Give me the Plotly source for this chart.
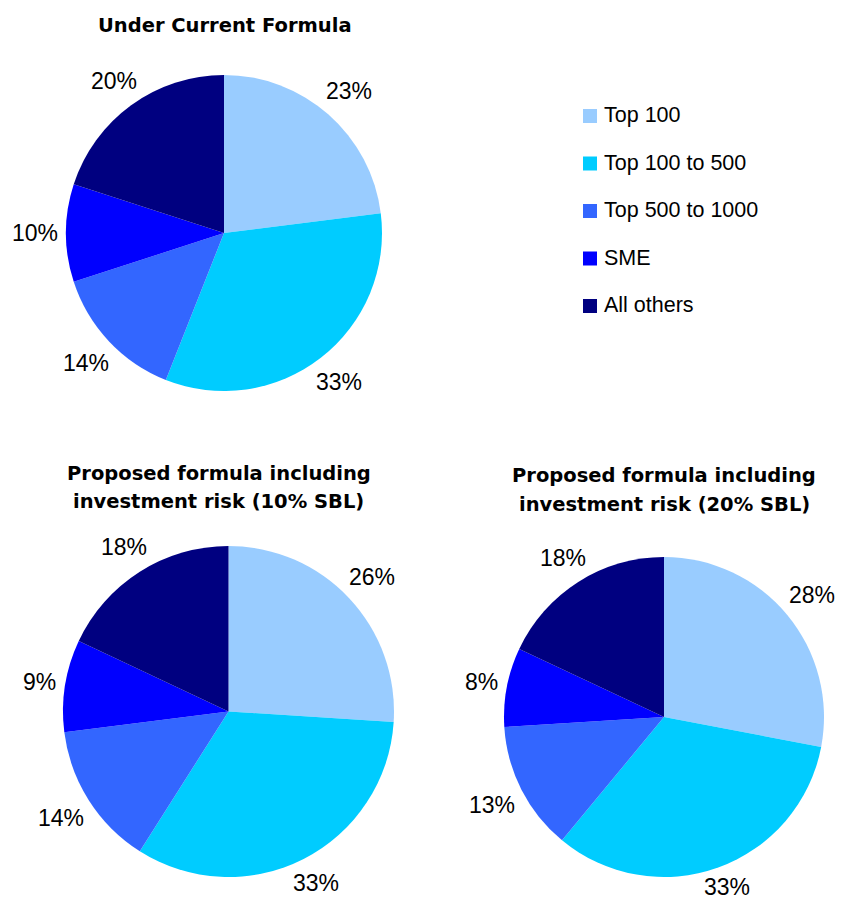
import math
import plotly.graph_objects as go

# Segment names and colours
segments = ["Top 100", "Top 100 to 500", "Top 500 to 1000", "SME", "All others"]
colors = ["#99CCFF", "#00CCFF", "#3366FF", "#0000FF", "#000080"]

# Share of the total (%) under each formula
current = [23, 33, 14, 10, 20]
proposed_10 = [26, 33, 14, 9, 18]
proposed_20 = [28, 33, 13, 8, 18]

W, H = 845, 900
LABEL_FONT = "Liberation Sans, Arial"
LABEL_SIZE = 23
TITLE_FONT = "DejaVu Sans, Arial"

# Pie boxes in pixels (left, right, top, bottom) and their titles
pies = [
    (current, (66, 382, 75, 391), ["Under Current Formula"], 225, [25]),
    (proposed_10, (63, 394, 546, 877),
     ["Proposed formula including", "investment risk (10% SBL)"], 219, [474, 501]),
    (proposed_20, (504, 824, 557, 877),
     ["Proposed formula including", "investment risk (20% SBL)"], 664, [476, 504]),
]


def px_domain(x0, x1, y0, y1):
    """Convert a pixel box (top-left origin) into a paper domain."""
    return dict(x=[x0 / W, x1 / W], y=[1 - y1 / H, 1 - y0 / H])


fig = go.Figure()
for vals, (x0, x1, y0, y1), title_lines, tx, ty in pies:
    fig.add_trace(go.Pie(
        labels=segments,
        values=vals,
        sort=False,
        direction="clockwise",
        rotation=0,
        domain=px_domain(x0, x1, y0, y1),
        marker=dict(colors=colors, line=dict(width=0)),
        textinfo="none",
        showlegend=False,
        hoverinfo="label+value",
    ))

    # Percentage labels just outside each slice, along its mid-angle;
    # the gap accounts for the label's own half-width / half-height.
    cx, cy = (x0 + x1) / 2, (y0 + y1) / 2
    r = min(x1 - x0, y1 - y0) / 2
    total = sum(vals)
    cum = 0
    for v in vals:
        mid = (cum + v / 2) / total * 2 * math.pi
        cum += v
        text = f"{v}%"
        hw = LABEL_SIZE * (0.556 * len(str(v)) + 0.889) / 2
        hh = 10
        s, c = math.sin(mid), math.cos(mid)
        d = r + 8 + abs(s) * hw + abs(c) * hh
        lx = cx + d * s
        ly = min(cy - d * c, H - 13)
        fig.add_annotation(
            x=lx / W, y=1 - ly / H, xref="paper", yref="paper",
            text=text, showarrow=False,
            xanchor="center", yanchor="middle",
            font=dict(family=LABEL_FONT, size=LABEL_SIZE, color="#000000"),
        )

    # Chart title, one annotation per line
    for line, yy in zip(title_lines, ty):
        fig.add_annotation(
            x=tx / W, y=1 - yy / H, xref="paper", yref="paper",
            text=f"<b>{line}</b>", showarrow=False,
            xanchor="center", yanchor="middle",
            font=dict(family=TITLE_FONT, size=19.5, color="#000000"),
        )

# Legend: colour swatches with segment names
leg_x, leg_y0, leg_step, sw = 583, 116, 47.5, 14
for i, (name, col) in enumerate(zip(segments, colors)):
    yc = leg_y0 + i * leg_step
    fig.add_shape(
        type="rect", xref="paper", yref="paper",
        x0=leg_x / W, x1=(leg_x + sw) / W,
        y0=1 - (yc + sw / 2) / H, y1=1 - (yc - sw / 2) / H,
        fillcolor=col, line=dict(width=0),
    )
    fig.add_annotation(
        x=(leg_x + sw + 5) / W, y=1 - (yc - 1) / H, xref="paper", yref="paper",
        text=name, showarrow=False, xanchor="left", yanchor="middle",
        font=dict(family=LABEL_FONT, size=21.5, color="#000000"),
    )

fig.update_layout(
    width=W, height=H,
    margin=dict(l=0, r=0, t=0, b=0),
    paper_bgcolor="#FFFFFF",
    plot_bgcolor="#FFFFFF",
)

fig.write_html("out.html")
